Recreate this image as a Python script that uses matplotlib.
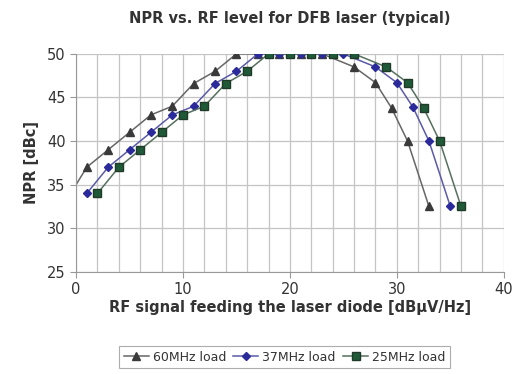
import matplotlib.pyplot as plt
import numpy as np

# 60MHz load (first point lies left of the axis, clipped)
x60 = [-1, 1, 3, 5, 7, 9, 11, 13, 15, 17, 19, 21, 23, 26, 28, 29.5, 31, 33]
y60 = [33, 37, 39, 41, 43, 44, 46.6, 48, 50, 50, 50, 50, 50, 48.5, 46.7, 43.8, 40, 32.5]

# 37MHz load
x37 = [1, 3, 5, 7, 9, 11, 13, 15, 17, 19, 21, 23, 25, 28, 30, 31.5, 33, 35]
y37 = [34, 37, 39, 41, 43, 44, 46.6, 48, 50, 50, 50, 50, 50, 48.5, 46.7, 43.9, 40, 32.5]

# 25MHz load
x25 = [2, 4, 6, 8, 10, 12, 14, 16, 18, 20, 22, 24, 26, 29, 31, 32.5, 34, 36]
y25 = [34, 37, 39, 41, 43, 44, 46.6, 48, 50, 50, 50, 50, 50, 48.5, 46.7, 43.8, 40, 32.5]

fig = plt.figure(figsize=(5.21, 3.74), dpi=100)
ax = fig.add_axes([0.146, 0.273, 0.821, 0.583])

ax.plot(x60, y60, color='#666666', lw=1.1, marker='^', ms=5.5,
        mfc='#3a3a3a', mec='#3a3a3a', label='60MHz load')
ax.plot(x37, y37, color='#5a5aa8', lw=1.1, marker='D', ms=4.2,
        mfc='#2a2a9a', mec='#2a2a9a', label='37MHz load')
ax.plot(x25, y25, color='#55705e', lw=1.1, marker='s', ms=5.5,
        mfc='#1f5a38', mec='#1f3a28', label='25MHz load')

ax.set_xlim(0, 40)
ax.set_ylim(25, 50)
ax.set_xticks(np.arange(0, 41, 10))
ax.set_xticks(np.arange(0, 41, 2), minor=True)
ax.set_yticks(np.arange(25, 51, 5))
ax.grid(True, which='both', color='#c4c4c4', lw=0.9)
ax.set_axisbelow(True)
ax.tick_params(which='minor', length=0)
ax.tick_params(which='major', length=4, color='#999999', labelsize=10.5,
               labelcolor='#333333')
for s in ['top', 'right']:
    ax.spines[s].set_visible(False)
for s in ['left', 'bottom']:
    ax.spines[s].set_color('#999999')

ax.set_title('NPR vs. RF level for DFB laser (typical)', fontsize=10.5,
             fontweight='bold', color='#333333', pad=22)
ax.set_ylabel('NPR [dBc]', fontsize=10.5, fontweight='bold', color='#333333',
              labelpad=6)
ax.set_xlabel('RF signal feeding the laser diode [dB\u03bcV/Hz]', fontsize=10.5,
              fontweight='bold', color='#333333', labelpad=2)

leg = fig.legend(loc='center', bbox_to_anchor=(0.546, 0.045), ncol=3,
                 fontsize=9, frameon=True, fancybox=False, handlelength=2,
                 columnspacing=0.6, handletextpad=0.3, borderpad=0.35)
leg.get_frame().set_edgecolor('#999999')
leg.get_frame().set_linewidth(0.8)
for t in leg.get_texts():
    t.set_color('#333333')

fig.savefig('out.png', dpi=100)
